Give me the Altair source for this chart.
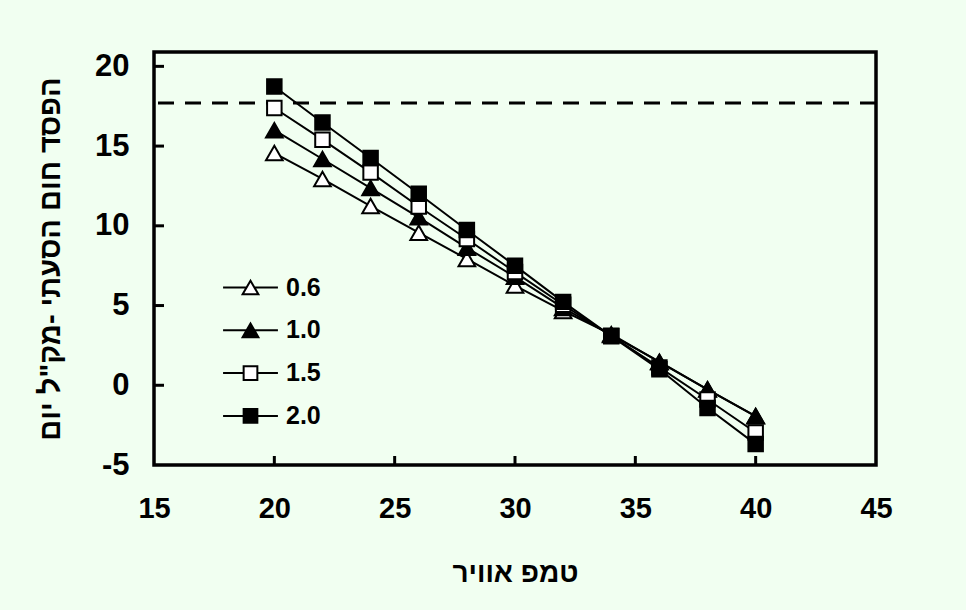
import altair as alt
import pandas as pd

# ---- data ----
x_vals = [20, 22, 24, 26, 28, 30, 32, 34, 36, 38, 40]
series_names = ["0.6", "1.0", "1.5", "2.0"]
s06 = [14.56, 12.94, 11.24, 9.57, 7.92, 6.25, 4.66, 3.2, 1.45, -0.25, -1.95]
s10 = [16.0, 14.19, 12.37, 10.53, 8.62, 6.8, 4.85, 3.15, 1.48, -0.27, -1.93]
s15 = [17.39, 15.40, 13.35, 11.21, 9.17, 7.1, 5.05, 3.1, 1.12, -0.89, -2.96]
s20 = [18.74, 16.48, 14.25, 12.01, 9.74, 7.5, 5.23, 3.08, 1.0, -1.43, -3.69]
ref_line = [17.7]
x_ticks = [15, 20, 25, 30, 35, 40, 45]
y_ticks = [-5, 0, 5, 10, 15, 20]
x_inner_ticks = [20, 25, 30, 35, 40]
y_inner_ticks = [0, 5, 10, 15, 20]
x_title = "טמפ אוויר"
y_title = 'הפסד חום הסעתי -מק"ל יום'

rows = []
for name, vals in zip(series_names, [s06, s10, s15, s20]):
    for xv, yv in zip(x_vals, vals):
        rows.append({"series": name, "x": xv, "y": yv, "order": series_names.index(name)})
df = pd.DataFrame(rows)

W, H = 722, 413
FONT = "Liberation Sans"

xscale = alt.Scale(domain=[15, 45], nice=False, zero=False)
yscale = alt.Scale(domain=[-5, 20.9], nice=False, zero=False)

xaxis = alt.Axis(values=x_ticks, title=x_title, domain=False, ticks=False,
                 grid=False, labelFlush=False, labelOverlap=False,
                 labelFont=FONT, labelFontSize=29, labelFontWeight="bold",
                 labelColor="black", labelPadding=29,
                 titleFont=FONT, titleFontSize=28, titleFontWeight="bold",
                 titleColor="black", titlePadding=36)
yaxis = alt.Axis(values=y_ticks, title=y_title, domain=False, ticks=False,
                 grid=False, labelFlush=False, labelOverlap=False,
                 labelExpr="'' + datum.value",
                 labelFont=FONT, labelFontSize=31, labelFontWeight="bold",
                 labelColor="black", labelPadding=25,
                 titleFont=FONT, titleFontSize=29, titleFontWeight="bold",
                 titleColor="black", titlePadding=29)

tri = "M0,-1L1.15,1L-1.15,1Z"
sq = "M-1,-1H1V1H-1Z"
tri_leg = "M-4,0H-0.6M0.6,0H4M0,-1L1.15,1L-1.15,1Z"
sq_leg = "M-4,0H-1M1,0H4M-1,-1H1V1H-1Z"
fill_range = ["white", "black", "white", "black"]

lines = alt.Chart(df).mark_line(color="black", strokeWidth=2).encode(
    x=alt.X("x:Q", scale=xscale, axis=xaxis),
    y=alt.Y("y:Q", scale=yscale, axis=yaxis),
    detail="series:N", order="x:Q")

points = alt.Chart(df).mark_point(stroke="black", strokeWidth=2, opacity=1, size=210).encode(
    x=alt.X("x:Q", scale=xscale, axis=xaxis),
    y=alt.Y("y:Q", scale=yscale, axis=yaxis),
    shape=alt.Shape("series:N", scale=alt.Scale(domain=series_names, range=[tri, tri, sq, sq]), legend=None),
    fill=alt.Fill("series:N", scale=alt.Scale(domain=series_names, range=fill_range), legend=None),
    order=alt.Order("order:Q"),
)

leg = alt.Legend(title=None, orient="none", legendX=84, legendY=223,
                 symbolSize=188, symbolStrokeWidth=2,
                 symbolStrokeColor="black", labelOffset=23,
                 labelFont=FONT, labelFontSize=25, labelFontWeight="bold",
                 labelColor="black", rowPadding=16.8, padding=0)

# legend-only layer: no rows drawn, legend built from explicit scale domains
legend_layer = alt.Chart(df).transform_filter("datum.x < 0").mark_point(
    strokeWidth=2, opacity=1).encode(
    x=alt.X("x:Q", scale=xscale, axis=xaxis),
    y=alt.Y("y:Q", scale=yscale, axis=yaxis),
    shape=alt.Shape("series:N", scale=alt.Scale(domain=series_names, range=[tri_leg, tri_leg, sq_leg, sq_leg]),
                    legend=leg),
    fill=alt.Fill("series:N", scale=alt.Scale(domain=series_names, range=fill_range), legend=leg),
    stroke=alt.Stroke("series:N", scale=alt.Scale(domain=series_names, range=["black"] * 4), legend=leg),
)

ref = alt.Chart(pd.DataFrame({"y": ref_line})).mark_rule(
    color="black", strokeWidth=3, strokeDash=[16, 11]).encode(
    y=alt.Y("y:Q", scale=yscale, axis=yaxis))

ytk = alt.Chart(pd.DataFrame({"y": y_inner_ticks})).mark_rule(color="black", strokeWidth=3).encode(
    y=alt.Y("y:Q", scale=yscale, axis=yaxis), x=alt.value(0), x2=alt.value(10))
xtk = alt.Chart(pd.DataFrame({"x": x_inner_ticks})).mark_rule(color="black", strokeWidth=3).encode(
    x=alt.X("x:Q", scale=xscale, axis=xaxis), y=alt.value(H), y2=alt.value(H - 9))

chart = alt.layer(ref, ytk, xtk, lines, points, legend_layer).resolve_scale(
    shape="independent", fill="independent", stroke="independent"
).properties(
    width=W, height=H,
    autosize=alt.AutoSizeParams(type="none"),
    padding={"left": 154, "top": 52, "right": 90, "bottom": 145},
    background="#F1FFF1",
).configure_view(stroke="black", strokeWidth=3.5)

chart.save("out.html", embed_options={"renderer": "svg", "actions": False})
